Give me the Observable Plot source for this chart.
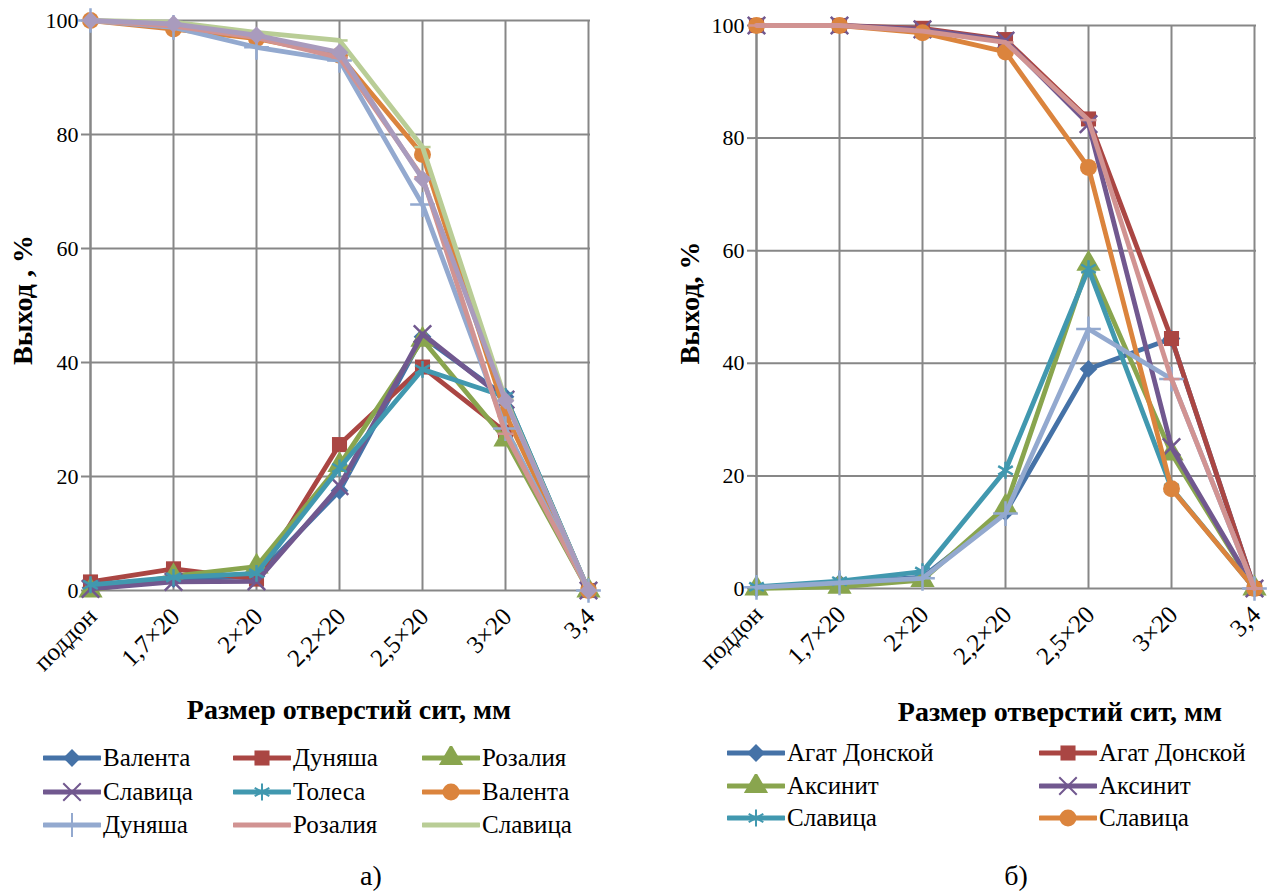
<!DOCTYPE html>
<html><head><meta charset="utf-8">
<script src="https://cdn.jsdelivr.net/npm/d3@7"></script>
<script src="https://cdn.jsdelivr.net/npm/@observablehq/plot@0.6"></script>
<style>
body{margin:0;background:#fff;font-family:"Liberation Serif","Times New Roman",Times,"DejaVu Serif",serif;}
#wrap{position:relative;width:1267px;height:893px;overflow:hidden;}
.abs{position:absolute;white-space:nowrap;color:#000;}
.title{font-weight:bold;font-size:28px;}
.ytitle{font-weight:bold;font-size:28px;transform:translate(-50%,-50%) rotate(-90deg);}
.leg{font-size:25px;display:flex;align-items:center;height:32px;}
.leg svg{margin-right:2px;}
.cap{font-size:28px;}
</style></head>
<body><div id="wrap"></div>
<script>
// ---------- data ----------
const categories = ["поддон","1,7×20","2×20","2,2×20","2,5×20","3×20","3,4"];
const yTicks = [0,20,40,60,80,100];

// panel a)
const aNames = ["Валента","Дуняша","Розалия","Славица","Толеса","Валента","Дуняша","Розалия","Славица",""];
const aValenta1 = [0.5, 2, 2.5, 17.5, 44.5, 34, 0];
const aDunyasha1 = [1.5, 3.8, 2, 25.6, 39.2, 27.8, 0];
const aRozaliya1 = [0, 2.5, 4.2, 22, 44, 26.5, 0];
const aSlavica1 = [0.3, 1.5, 1.6, 18.3, 45, 33.5, 0];
const aTolesa1 = [1, 2.3, 3, 21.5, 38.8, 34, 0];
const aValenta2 = [100, 98.5, 96.8, 93.9, 76.5, 31, 0];
const aDunyasha2 = [100, 98.8, 95.3, 93, 67.7, 28.4, 0];
const aRozaliya2 = [100, 99, 97, 93.5, 72.5, 27.5, 0];
const aSlavica2 = [100, 99.7, 97.9, 96.5, 77.8, 33.5, 0];
const aExtra = [100, 99.4, 97.4, 94.4, 72.2, 33.3, 0];
const aSeries = [aValenta1,aDunyasha1,aRozaliya1,aSlavica1,aTolesa1,aValenta2,aDunyasha2,aRozaliya2,aSlavica2,aExtra];

// panel б)
const bNames = ["Агат Донской","Агат Донской","Аксинит","Аксинит","Славица","Славица","",""];
const bAgat1 = [0, 1, 2, 13.5, 39, 44.4, 0];
const bAgat2 = [100, 100, 99.5, 97.5, 83.4, 44.4, 0];
const bAksinit1 = [0, 0.3, 1.5, 14.5, 57.7, 24, 0];
const bAksinit2 = [100, 100, 99.3, 97.3, 82.5, 25.1, 0];
const bSlavica1 = [0.3, 1.3, 3, 21, 56.8, 17.8, 0];
const bSlavica2 = [100, 100, 98.7, 95.3, 74.8, 17.7, 0];
const bExtra1 = [0.2, 1, 1.8, 13.3, 46.1, 37.2, 0];
const bExtra2 = [100, 100, 99, 97, 83.2, 37.2, 0];
const bSeries = [bAgat1,bAgat2,bAksinit1,bAksinit2,bSlavica1,bSlavica2,bExtra1,bExtra2];

// ---------- styles ----------
const colors = ["#4572A7","#AA4643","#89A54E","#71588F","#4198AF","#DB843D","#93A9CF","#D19392","#B9CD96","#A99BBD"];
const dash = {draw(ctx, size){ const r = Math.sqrt(size/Math.PI)*0.9; ctx.moveTo(-r,0); ctx.lineTo(r,0); }};
const markers = [
  {symbol:"diamond2", filled:true, r:8},
  {symbol:"square", filled:true, r:8.5},
  {symbol:"triangle", filled:true, r:9},
  {symbol:"times", filled:false, r:8},
  {symbol:"asterisk", filled:false, r:8},
  {symbol:"circle", filled:true, r:8.5},
  {symbol:"plus", filled:false, r:8},
  {symbol:dash, filled:false, r:9},
  {symbol:dash, filled:false, r:9},
  {symbol:"diamond2", filled:true, r:8}
];
const GRID = "#878787";
const FONT = "'Liberation Serif', 'Times New Roman', Times, 'DejaVu Serif', serif";

function panel(series, o){
  const marks = [
    Plot.gridX(categories, {stroke:GRID, strokeOpacity:1, strokeWidth:2}),
    Plot.gridY(yTicks, {stroke:GRID, strokeOpacity:1, strokeWidth:2}),
    Plot.ruleX([categories[0]], {stroke:GRID, strokeWidth:2}),
    Plot.axisY(yTicks, {tickSize:7, tickPadding:3, stroke:GRID, strokeWidth:2, fill:"#000", fontSize:22}),
    Plot.axisX(categories, {tickSize:0, tickRotate:-45, tickPadding:22, dx:2, fill:"#000", fontSize:25})
  ];
  series.forEach((vals, i) => {
    const rows = categories.map((c, k) => ({c, v: vals[k]}));
    const m = markers[i];
    marks.push(Plot.line(rows, {x:"c", y:"v", stroke:colors[i], strokeWidth:4.8, strokeLinejoin:"round"}));
    marks.push(Plot.dot(rows, {x:"c", y:"v", symbol:m.symbol, r:m.r,
      fill: m.filled ? colors[i] : "none", stroke: colors[i], strokeWidth: m.filled ? 0 : 2.5}));
  });
  const p = Plot.plot({
    width:o.width, height:o.height,
    marginLeft:o.ml, marginRight:o.mr, marginTop:o.mt, marginBottom:o.height-o.bottom,
    x:{type:"point", domain:categories, padding:0, label:null, axis:null},
    y:{domain:[0,100], label:null, axis:null},
    style:{fontFamily:FONT, fontSize:"22px", color:"#000", background:"transparent", overflow:"visible"},
    marks
  });
  p.style.position = "absolute";
  p.style.left = o.left + "px";
  p.style.top = "0px";
  return p;
}

const wrap = document.getElementById("wrap");
wrap.appendChild(panel(aSeries, {left:0, width:633, height:700, ml:88, mr:43, mt:20, bottom:590}));
wrap.appendChild(panel(bSeries, {left:633, width:634, height:700, ml:121, mr:11, mt:25, bottom:588}));

function addText(cls, txt, x, y, extra){
  const d = document.createElement("div");
  d.className = "abs " + cls;
  d.textContent = txt;
  d.style.left = x + "px"; d.style.top = y + "px";
  if (extra) Object.assign(d.style, extra);
  wrap.appendChild(d);
  return d;
}
addText("ytitle", "Выход , %", 23, 300);
addText("ytitle", "Выход, %", 690, 303);
addText("title", "Размер отверстий сит, мм", 349, 710, {transform:"translate(-50%,-50%)"});
addText("title", "Размер отверстий сит, мм", 1060, 712, {transform:"translate(-50%,-50%)"});
addText("cap", "а)", 371, 876, {transform:"translate(-50%,-50%)"});
addText("cap", "б)", 1016, 876, {transform:"translate(-50%,-50%)"});

function swatch(i){
  const ns = "http://www.w3.org/2000/svg";
  const s = document.createElementNS(ns, "svg");
  s.setAttribute("width", 58); s.setAttribute("height", 24);
  const l = document.createElementNS(ns, "line");
  l.setAttribute("x1", 1); l.setAttribute("x2", 57); l.setAttribute("y1", 12); l.setAttribute("y2", 12);
  l.setAttribute("stroke", colors[i]); l.setAttribute("stroke-width", 5); l.setAttribute("stroke-linecap","round");
  s.appendChild(l);
  const m = markers[i];
  const symMap = {diamond2:d3.symbolDiamond2, square:d3.symbolSquare, triangle:d3.symbolTriangle, times:d3.symbolTimes, asterisk:d3.symbolAsterisk, circle:d3.symbolCircle, plus:d3.symbolPlus};
  const t = typeof m.symbol === "string" ? symMap[m.symbol] : m.symbol;
  const p = document.createElementNS(ns, "path");
  p.setAttribute("d", d3.symbol(t, Math.PI*m.r*m.r)());
  p.setAttribute("transform", "translate(29,12)");
  p.setAttribute("fill", m.filled ? colors[i] : "none");
  p.setAttribute("stroke", colors[i]);
  p.setAttribute("stroke-width", m.filled ? 0 : 2);
  s.appendChild(p);
  return s;
}
function legendItem(i, name, x, y){
  const d = document.createElement("div");
  d.className = "abs leg";
  d.style.left = x + "px"; d.style.top = (y - 16) + "px";
  d.appendChild(swatch(i));
  const sp = document.createElement("span"); sp.textContent = name; d.appendChild(sp);
  wrap.appendChild(d);
}
const aCols = [43, 233, 422], aRows = [758, 792, 825];
for (let i = 0; i < 9; i++) legendItem(i, aNames[i], aCols[i % 3], aRows[Math.floor(i / 3)]);
const bCols = [727, 1039], bRows = [753, 786, 818];
for (let i = 0; i < 6; i++) legendItem(i, bNames[i], bCols[i % 2], bRows[Math.floor(i / 2)]);
</script></body></html>
